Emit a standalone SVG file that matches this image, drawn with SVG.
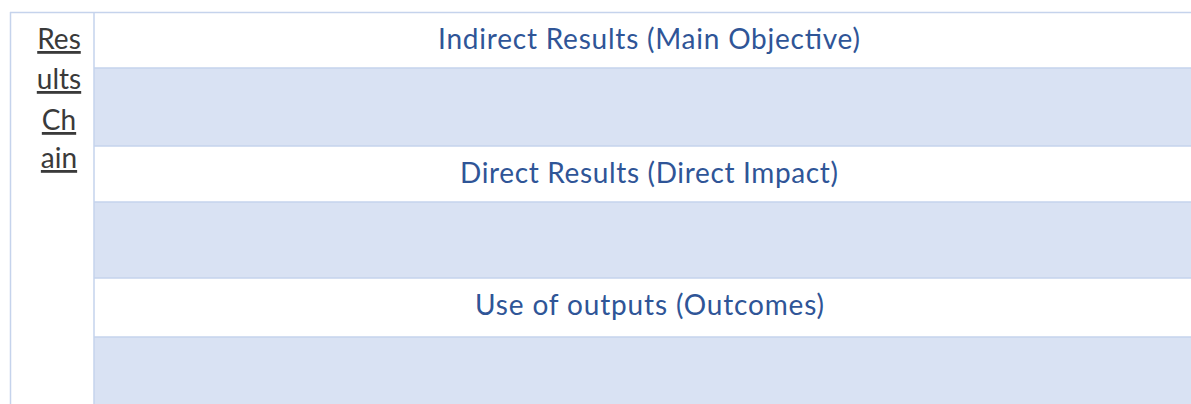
<svg xmlns="http://www.w3.org/2000/svg" width="1191" height="404" viewBox="0 0 1191 404">
  <style>
    .band { fill: #D9E2F3; }
    .rule { stroke: #C5D3EC; stroke-width: 1.5; fill: none; }
    .head { font-family: Lato, "Liberation Sans", sans-serif; font-size: 28px; fill: #2F5597; text-anchor: middle; }
    .side { font-family: Lato, "Liberation Sans", sans-serif; font-size: 28px; fill: #3A3A3A; text-anchor: middle; text-decoration: underline; }
  </style>
  <rect width="1191" height="404" fill="#FFFFFF"/>

  <!-- shaded rows -->
  <g id="bands">
    <rect class="band" x="94" y="68" width="1097" height="78"/>
    <rect class="band" x="94" y="202" width="1097" height="76"/>
    <rect class="band" x="94" y="337" width="1097" height="67"/>
  </g>

  <!-- table rules -->
  <g id="grid">
    <line class="rule" x1="10" y1="12.5" x2="1191" y2="12.5"/>
    <line class="rule" x1="10.5" y1="12" x2="10.5" y2="404"/>
    <line class="rule" x1="94" y1="12" x2="94" y2="404"/>
    <line class="rule" x1="94" y1="68" x2="1191" y2="68"/>
    <line class="rule" x1="94" y1="146" x2="1191" y2="146"/>
    <line class="rule" x1="94" y1="202" x2="1191" y2="202"/>
    <line class="rule" x1="94" y1="278" x2="1191" y2="278"/>
    <line class="rule" x1="94" y1="337" x2="1191" y2="337"/>
  </g>

  <!-- side label -->
  <g id="side-label">
    <text class="side" x="59" y="49">Res</text>
    <text class="side" x="59" y="89">ults</text>
    <text class="side" x="59" y="130">Ch</text>
    <text class="side" x="59" y="168">ain</text>
  </g>

  <g id="row-indirect">
    <text class="head" x="649" y="49" textLength="422">Indirect Results (Main Objective)</text>
  </g>
  <g id="row-direct">
    <text class="head" x="649" y="183" textLength="378">Direct Results (Direct Impact)</text>
  </g>
  <g id="row-outputs">
    <text class="head" x="649.5" y="315" textLength="349">Use of outputs (Outcomes)</text>
  </g>
</svg>
